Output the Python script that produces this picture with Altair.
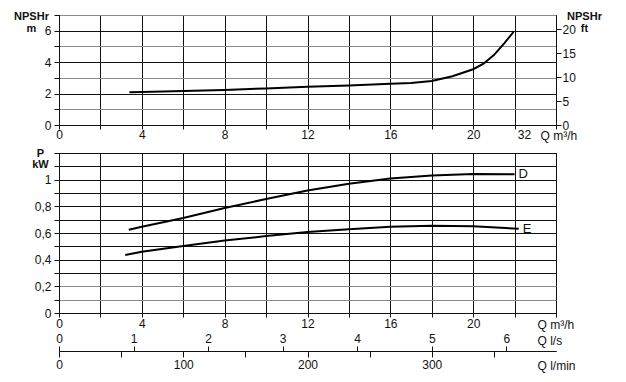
import altair as alt
import pandas as pd

FONT = "Liberation Sans"

# NPSHr curve (Q m3/h, NPSHr m)
q_npsh = [3.4, 4, 6, 8, 10, 12, 14, 16, 17, 18, 19, 20, 20.5, 21, 21.5, 21.95]
h_npsh = [2.08, 2.1, 2.17, 2.23, 2.33, 2.43, 2.52, 2.62, 2.68, 2.8, 3.1, 3.55, 3.9, 4.45, 5.2, 5.92]

# Power curves (Q m3/h, P kW)
q_d = [3.37, 4, 6, 8, 10, 12, 14, 16, 18, 20, 22]
p_d = [0.624, 0.647, 0.712, 0.787, 0.855, 0.918, 0.97, 1.009, 1.032, 1.042, 1.04]
q_e = [3.2, 4, 6, 8, 10, 12, 14, 16, 18, 20, 22.2]
p_e = [0.435, 0.46, 0.503, 0.543, 0.577, 0.607, 0.629, 0.647, 0.654, 0.651, 0.632]

x_ticks = list(range(0, 25, 2))
npsh_ticks = list(range(0, 8))
ft_ticks = [0, 5, 10, 15, 20]
p_ticks = [round(i * 0.1, 1) for i in range(13)]
ls_ticks = [0, 1, 2, 3, 4, 5, 6]
lmin_ticks = list(range(0, 351, 50))

Q_MAX = 24
W = 497

npsh_df = pd.DataFrame({"q": q_npsh, "h": h_npsh})
pow_df = pd.concat([
    pd.DataFrame({"q": q_d, "p": p_d, "s": "D"}),
    pd.DataFrame({"q": q_e, "p": p_e, "s": "E"}),
])
lab_df = pd.DataFrame({"q": [q_d[-1], q_e[-1]], "p": [p_d[-1], p_e[-1]], "s": ["D", "E"]})

xscale = alt.Scale(domain=[0, Q_MAX], nice=False, zero=True)

# ---------- top panel ----------
top_x_axis = alt.Axis(
    values=x_ticks,
    labelExpr="datum.value == 24 ? '32' : (datum.value % 4 == 0 ? datum.label : '')",
    labelOffset={"condition": {"test": "datum.value == 24", "value": -32}, "value": 0},
    grid=True, tickSize=4, labelPadding=0, labelFlush=False, labelOverlap=False,
    title="Q m³/h", titleX=481, titleY=10, titleAlign="left", titleBaseline="middle",
    titleFontWeight="normal", titleFontSize=12)

top_line = alt.Chart(npsh_df).mark_line(color="black", strokeWidth=2).encode(
    x=alt.X("q:Q", scale=xscale, axis=top_x_axis),
    y=alt.Y("h:Q", scale=alt.Scale(domain=[0, 7], nice=False), axis=alt.Axis(
        values=npsh_ticks,
        labelExpr="datum.value % 2 == 0 && datum.value < 7 ? datum.label : ''",
        grid=True,
        gridColor={"condition": {"test": "datum.value % 2 == 1", "value": "#8a8a8a"}, "value": "#111"},
        tickSize=5, labelPadding=3,
        title=["NPSHr", "m"], titleAngle=0, titleX=-28, titleY=-5,
        titleAlign="center", titleBaseline="top", titleFontWeight="bold",
        titleFontSize=11, titleLineHeight=12)),
)

# same curve expressed in feet, invisible, only to carry the right-hand axis
ft_layer = alt.Chart(npsh_df).transform_calculate(ft="datum.h / 0.3048").mark_line(opacity=0).encode(
    x=alt.X("q:Q", scale=xscale, axis=top_x_axis),
    y=alt.Y("ft:Q", scale=alt.Scale(domain=[0, 7 / 0.3048], nice=False), axis=alt.Axis(
        orient="right", values=ft_ticks, grid=False, tickSize=5, labelPadding=1,
        title=["NPSHr", "ft"], titleAngle=0, titleX=28, titleY=-5,
        titleAlign="center", titleBaseline="top", titleFontWeight="bold",
        titleFontSize=11, titleLineHeight=12)),
)

top = alt.layer(top_line, ft_layer).resolve_scale(y="independent").properties(width=W, height=110)

# ---------- bottom panel ----------
pscale = alt.Scale(domain=[0, 1.2], nice=False)
p_label = ("round(datum.value*10) % 2 == 0 && datum.value < 1.05 ? "
           "(datum.value == 0 ? '0' : (datum.value == 1 ? '1' : "
           "replace(format(datum.value, '.1f'), '.', ','))) : ''")

p_axis = alt.Axis(
    values=p_ticks, labelExpr=p_label, grid=True,
    gridColor={"condition": {"test": "datum.value > 0.05 && datum.value < 0.25", "value": "#8a8a8a"}, "value": "#111"},
    tickSize=5, labelPadding=3,
    title=["P", "kW"], titleAngle=0, titleX=-19, titleY=-6,
    titleAlign="center", titleBaseline="top", titleFontWeight="bold",
    titleFontSize=11, titleLineHeight=11)

q_axis = alt.Axis(
    values=x_ticks,
    labelExpr="datum.value % 4 == 0 && datum.value < 24 ? datum.label : ''",
    grid=True, tickSize=4, labelPadding=1, labelFlush=False, labelOverlap=False,
    title="Q m³/h", titleX=478, titleY=11, titleAlign="left", titleBaseline="middle",
    titleFontWeight="normal", titleFontSize=12)

lines = alt.Chart(pow_df).mark_line(color="black", strokeWidth=2).encode(
    x=alt.X("q:Q", scale=xscale, axis=q_axis),
    y=alt.Y("p:Q", scale=pscale, axis=p_axis),
    detail="s:N",
)

labels = alt.Chart(lab_df).mark_text(align="left", baseline="middle", dx=4, fontSize=13,
                                     font=FONT, color="#111").encode(
    x=alt.X("q:Q", scale=xscale, axis=q_axis),
    y=alt.Y("p:Q", scale=pscale, axis=p_axis),
    text="s:N",
)

front = alt.layer(lines, labels)

# same curves expressed in l/s and l/min, invisible, only to carry the extra axes
ls_layer = alt.Chart(pow_df).transform_calculate(ls="datum.q / 3.6").mark_line(opacity=0).encode(
    x=alt.X("ls:Q", scale=alt.Scale(domain=[0, Q_MAX / 3.6], nice=False), axis=alt.Axis(
        orient="top", offset=-198, values=ls_ticks, grid=False, tickSize=5, labelPadding=1,
        labelFlush=False, labelOverlap=False,
        title="Q l/s", titleX=478, titleY=-11, titleAlign="left", titleBaseline="middle",
        titleFontWeight="normal", titleFontSize=12)),
    y=alt.Y("p:Q", scale=pscale, axis=p_axis),
    detail="s:N",
)

lmin_layer = alt.Chart(pow_df).transform_calculate(lmin="datum.q * 1000 / 60").mark_line(opacity=0).encode(
    x=alt.X("lmin:Q", scale=alt.Scale(domain=[0, Q_MAX * 1000 / 60], nice=False), axis=alt.Axis(
        orient="bottom", offset=38, values=lmin_ticks,
        labelExpr="datum.value % 100 == 0 ? datum.label : ''",
        grid=False, tickSize=6, labelPadding=2, labelFlush=False, labelOverlap=False,
        title="Q l/min", titleX=478, titleY=14, titleAlign="left", titleBaseline="middle",
        titleFontWeight="normal", titleFontSize=12)),
    y=alt.Y("p:Q", scale=pscale, axis=p_axis),
    detail="s:N",
)

bottom = alt.layer(front, ls_layer, lmin_layer).resolve_scale(
    x="independent").properties(width=W, height=160)

chart = alt.vconcat(top, bottom, spacing=28, bounds="flush").properties(
    padding={"left": 5, "top": 1, "right": 5, "bottom": 5}
).configure(font=FONT).configure_axis(
    labelFont=FONT, labelFontSize=12, labelColor="#111",
    titleFont=FONT, titleColor="#111",
    tickColor="#111", domainColor="#111", gridColor="#111",
    gridWidth=1, tickWidth=1, domainWidth=1, gridOpacity=1,
).configure_view(stroke="#111", strokeWidth=1)

chart.save("out.html", embed_options={"renderer": "svg", "actions": False})
